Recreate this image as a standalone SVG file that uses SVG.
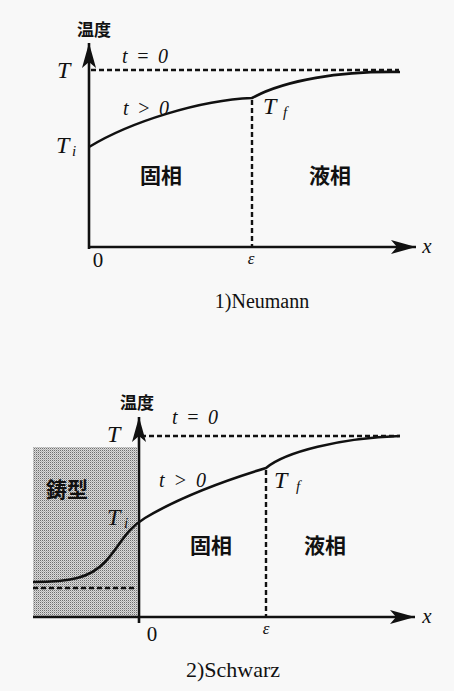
<svg xmlns="http://www.w3.org/2000/svg" width="454" height="691" viewBox="0 0 454 691">
<style>
.axis{stroke:#111;stroke-width:2.6;fill:none}
.curve{stroke:#111;stroke-width:2.6;fill:none}
.dash{stroke:#111;stroke-width:2.4;fill:none;stroke-dasharray:5 3}
.it{font-family:"Liberation Serif","Times New Roman",serif;font-style:italic;fill:#111}
.rm{font-family:"Liberation Serif","Times New Roman",serif;fill:#111}
.jp{font-family:"Noto Sans CJK JP","Noto Sans CJK SC",sans-serif;font-weight:700;fill:#111}
</style>
<defs>
<marker id="arr" viewBox="0 -8 26 16" refX="25" refY="0" markerWidth="26" markerHeight="16" markerUnits="userSpaceOnUse" orient="auto">
<path d="M25,0 L0,-7 L6,0 L0,7 Z" fill="#111"/>
</marker>
<pattern id="stip" width="2" height="2" patternUnits="userSpaceOnUse">
<rect width="2" height="2" fill="#dadada"/>
<rect width="1" height="1" fill="#6e6e6e"/>
<rect x="1" y="1" width="1" height="1" fill="#b0b0b0"/>
</pattern>
</defs>
<rect width="454" height="691" fill="#f8f8f8"/>

<g id="neumann">
<g id="n-connectors">
<line class="axis" x1="89" y1="249" x2="89" y2="43" marker-end="url(#arr)"/>
<line class="axis" x1="88" y1="247" x2="416" y2="247" marker-end="url(#arr)"/>
<line class="dash" x1="91" y1="70" x2="399" y2="70"/>
<line class="dash" x1="252" y1="100" x2="252" y2="246"/>
<path class="curve" d="M89,147 C130,122 200,100 252,98 C285,80 340,71 400,72"/>
</g>
<g id="n-labels">
<text class="jp" x="94" y="36" font-size="17" text-anchor="middle">温度</text>
<text class="it" x="57" y="78" font-size="24">T</text>
<text class="it" x="122" y="63" font-size="20" textLength="46" lengthAdjust="spacing">t = 0</text>
<text class="it" x="123" y="115" font-size="20" textLength="46" lengthAdjust="spacing">t &gt; 0</text>
<text class="it" x="56" y="153" font-size="24">T</text>
<text class="it" x="72" y="156" font-size="15">i</text>
<text class="it" x="263" y="114" font-size="24">T</text>
<text class="it" x="283" y="117" font-size="15">f</text>
<text class="jp" x="161" y="183" font-size="21" text-anchor="middle">固相</text>
<text class="jp" x="330" y="183" font-size="21" text-anchor="middle">液相</text>
<text class="rm" x="98" y="267" font-size="21" text-anchor="middle">0</text>
<text class="it" x="251" y="264" font-size="17" text-anchor="middle">ε</text>
<text class="it" x="427" y="253" font-size="21" text-anchor="middle">x</text>
<text class="rm" x="262" y="308" font-size="20" text-anchor="middle">1)Neumann</text>
</g>
</g>

<g id="schwarz">
<g id="s-mold">
<rect x="33" y="447" width="104" height="169" fill="url(#stip)"/>
</g>
<g id="s-connectors">
<line class="axis" x1="139" y1="623" x2="139" y2="417" marker-end="url(#arr)"/>
<line class="axis" x1="33" y1="617" x2="415" y2="617" marker-end="url(#arr)"/>
<line class="dash" x1="141" y1="436" x2="400" y2="436"/>
<line class="dash" x1="33" y1="588" x2="137" y2="588"/>
<line class="dash" x1="266" y1="470" x2="266" y2="616"/>
<path class="curve" d="M33,582 C70,582 90,578 105,562 S125,530 145,518 C175,500 220,482 266,468 C285,452 340,438 400,436"/>
</g>
<g id="s-labels">
<text class="jp" x="137" y="409" font-size="17" text-anchor="middle">温度</text>
<text class="it" x="107" y="442" font-size="24">T</text>
<text class="it" x="172" y="424" font-size="20" textLength="46" lengthAdjust="spacing">t = 0</text>
<text class="it" x="159" y="487" font-size="20" textLength="47" lengthAdjust="spacing">t &gt; 0</text>
<text class="it" x="107" y="525" font-size="24">T</text>
<text class="it" x="124" y="528" font-size="15">i</text>
<text class="it" x="274" y="488" font-size="24">T</text>
<text class="it" x="296" y="491" font-size="15">f</text>
<text class="jp" x="67" y="497" font-size="21" text-anchor="middle">鋳型</text>
<text class="jp" x="211" y="553" font-size="21" text-anchor="middle">固相</text>
<text class="jp" x="325" y="553" font-size="21" text-anchor="middle">液相</text>
<text class="rm" x="152" y="641" font-size="21" text-anchor="middle">0</text>
<text class="it" x="266" y="634" font-size="17" text-anchor="middle">ε</text>
<text class="it" x="427" y="623" font-size="21" text-anchor="middle">x</text>
<text class="rm" x="233" y="677" font-size="22" text-anchor="middle">2)Schwarz</text>
</g>
</g>
</svg>
